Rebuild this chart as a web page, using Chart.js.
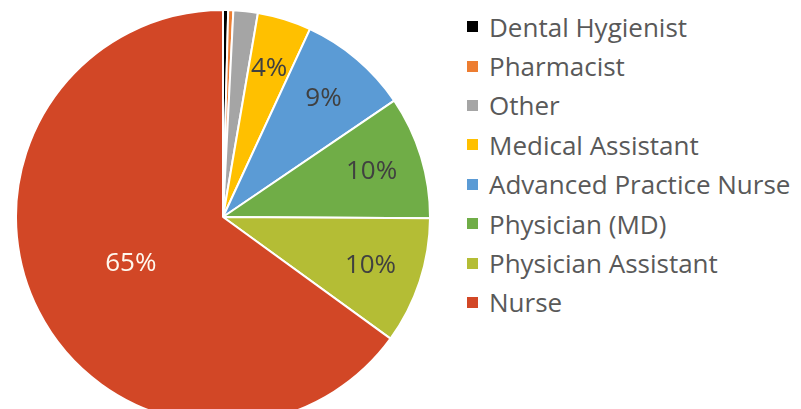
<!DOCTYPE html>
<html>
<head>
<meta charset="utf-8">
<script src="https://cdn.jsdelivr.net/npm/chart.js@4/dist/chart.umd.min.js"></script>
<style>
  html, body { margin: 0; padding: 0; background: #fff; width: 801px; height: 409px; overflow: hidden; }
  #pie { position: absolute; left: 15px; top: 9px; }
  #legend { position: absolute; left: 467px; top: 7px; font-family: "Open Sans", sans-serif; font-size: 26px; color: #595959; }
  .item { height: 39.4px; display: flex; align-items: center; white-space: nowrap; }
  .box { width: 11px; height: 11px; margin-right: 11px; flex: none; }
</style>
</head>
<body>
<canvas id="pie" width="416" height="416"></canvas>
<div id="legend"></div>
<script>
const labels = ['Dental Hygienist', 'Pharmacist', 'Other', 'Medical Assistant',
  'Advanced Practice Nurse', 'Physician (MD)', 'Physician Assistant', 'Nurse'];
const shares = [0.4, 0.4, 1.9, 4.2, 8.6, 9.6, 9.9, 65.0];
const colors = ['#000000', '#ED7D31', '#A5A5A5', '#FFC000', '#5B9BD5', '#70AD47', '#B4BD35', '#D24726'];

// percent labels inside slices (only the bigger ones, like the original)
const sliceLabels = {
  id: 'sliceLabels',
  afterDatasetsDraw(chart) {
    const ctx = chart.ctx;
    const meta = chart.getDatasetMeta(0);
    ctx.save();
    ctx.font = '26px "Open Sans", sans-serif';
    ctx.textAlign = 'center';
    ctx.textBaseline = 'middle';
    meta.data.forEach((arc, i) => {
      const v = shares[i];
      if (v < 3) return;
      const mid = (arc.startAngle + arc.endAngle) / 2;
      const r = arc.outerRadius * (v > 50 ? 0.5 : 0.75);
      ctx.fillStyle = v > 50 ? '#FFF8EE' : '#404040';
      ctx.fillText(Math.round(v) + '%', arc.x + Math.cos(mid) * r, arc.y + Math.sin(mid) * r);
    });
    ctx.restore();
  }
};

new Chart(document.getElementById('pie'), {
  type: 'pie',
  data: {
    labels: labels,
    datasets: [{
      data: shares,
      backgroundColor: colors,
      borderColor: '#ffffff',
      borderWidth: 2
    }]
  },
  options: {
    responsive: false,
    animation: false,
    plugins: {
      legend: { display: false },
      tooltip: { enabled: false }
    }
  },
  plugins: [sliceLabels]
});

const legend = document.getElementById('legend');
labels.forEach((name, i) => {
  const row = document.createElement('div');
  row.className = 'item';
  row.innerHTML = '<span class="box" style="background:' + colors[i] + '"></span><span>' + name + '</span>';
  legend.appendChild(row);
});
</script>
</body>
</html>
